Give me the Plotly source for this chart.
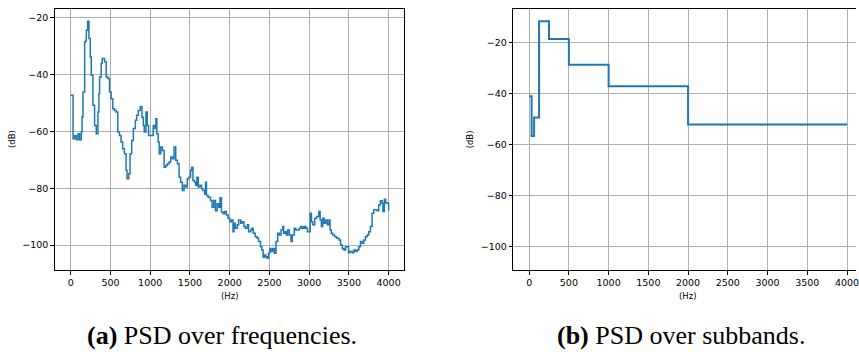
import plotly.graph_objects as go

W, H = 859, 352

# ---------------- data: (a) PSD over frequencies ----------------
freq_hz = [0, 29, 50, 71, 92, 112, 133, 142, 154, 175, 188, 196, 213, 229, 246, 258, 279, 300, 321,
           342, 354, 363, 383, 396, 425, 446, 467, 488, 508, 529, 550, 571, 592, 613, 633, 654, 675,
           696, 708, 729, 746, 767, 788, 813, 829, 850, 875, 896, 913, 925, 946, 963, 979, 1021, 1038,
           1058, 1071, 1083, 1100, 1113, 1133, 1154, 1175, 1196, 1217, 1238, 1258, 1279, 1300, 1321,
           1342, 1363, 1383, 1404, 1425, 1446, 1467, 1488, 1508, 1521, 1538, 1558, 1571, 1588, 1604,
           1625, 1646, 1663, 1683, 1696, 1708, 1729, 1758, 1779, 1800, 1821, 1842, 1863, 1879, 1896,
           1917, 1937, 1958, 1979, 2000, 2021, 2042, 2054, 2071, 2096, 2113, 2138, 2154, 2179, 2196,
           2221, 2238, 2263, 2279, 2296, 2321, 2346, 2363, 2388, 2404, 2421, 2438, 2454, 2471, 2488,
           2504, 2521, 2542, 2563, 2583, 2604, 2625, 2646, 2667, 2679, 2696, 2713, 2729, 2750, 2771,
           2788, 2813, 2833, 2854, 2875, 2896, 2917, 2938, 2958, 2979, 3000, 3013, 3029, 3046, 3071,
           3096, 3121, 3138, 3154, 3171, 3188, 3208, 3229, 3250, 3263, 3279, 3296, 3321, 3346, 3375,
           3396, 3417, 3438, 3458, 3479, 3496, 3513, 3542, 3563, 3583, 3604, 3625, 3646, 3667, 3688,
           3708, 3729, 3750, 3771, 3792, 3813, 3833, 3854, 3875, 3896, 3917, 3929, 3946, 3963, 3979,
           4000]
psd_db = [-47.3, -62.6, -61.5, -62.9, -60.8, -62.9, -60.2, -54.9, -46.1, -28.5, -27.9, -24.4, -21.2,
          -27.3, -33.8, -40.2, -50.8, -57.9, -60.8, -53.2, -46.7, -40.8, -36.1, -34.3, -35.5, -40.8,
          -41.4, -46.1, -48.5, -52.0, -52.6, -53.2, -60.2, -61.4, -63.7, -66.1, -67.9, -73.7, -76.7,
          -74.9, -67.9, -63.2, -59.0, -56.1, -54.3, -52.6, -51.2, -55.0, -57.9, -60.2, -53.2, -57.9,
          -61.4, -61.4, -57.9, -59.0, -55.5, -60.8, -63.7, -67.9, -65.5, -66.7, -72.6, -72.0, -71.4,
          -70.8, -69.0, -69.6, -65.5, -70.2, -71.4, -76.1, -77.9, -80.8, -79.0, -79.6, -76.7, -76.1,
          -73.7, -72.6, -77.3, -77.9, -79.0, -76.1, -79.6, -79.0, -80.2, -80.8, -82.0, -77.9, -82.6,
          -83.2, -84.3, -86.7, -84.3, -87.9, -85.5, -86.7, -83.4, -88.4, -89.0, -88.2, -89.4, -90.6,
          -91.8, -91.2, -95.3, -92.3, -94.1, -92.9, -91.2, -92.3, -91.8, -93.5, -94.1, -92.9, -95.3,
          -94.7, -94.1, -95.9, -97.1, -97.6, -98.8, -100.6, -101.8, -104.3, -103.5, -104.1, -104.7,
          -102.9, -101.2, -102.3, -101.2, -102.9, -98.8, -95.9, -96.5, -94.7, -93.5, -95.9, -95.3,
          -96.5, -94.7, -96.5, -98.8, -96.5, -94.1, -94.7, -94.7, -94.1, -93.5, -94.1, -93.5, -94.1,
          -95.3, -95.3, -88.8, -91.8, -92.9, -90.6, -90.0, -88.2, -91.2, -93.5, -90.6, -92.3, -91.2,
          -92.9, -91.2, -94.7, -95.9, -96.5, -97.1, -97.6, -98.2, -100.0, -101.2, -101.8, -100.6,
          -100.6, -102.7, -102.3, -102.7, -101.8, -102.3, -101.8, -100.6, -98.8, -99.4, -98.2, -97.1,
          -96.5, -95.3, -93.5, -88.8, -87.6, -87.6, -87.9, -85.9, -84.4, -85.3, -88.2, -83.9, -85.1,
          -85.3, -87.9]

# ---------------- data: (b) PSD over subbands ----------------
band_edges_hz = [0, 31.25, 62.5, 125, 250, 500, 1000, 2000, 4000]
band_db = [-41.1, -56.7, -49.4, -11.8, -18.7, -28.8, -37.2, -52.2, -52.2]

x_ticks = [0, 500, 1000, 1500, 2000, 2500, 3000, 3500, 4000]
y_ticks = [-100, -80, -60, -40, -20]

captions = ["<b>(a)</b> PSD over frequencies.", "<b>(b)</b> PSD over subbands."]
x_label = "(Hz)"
y_label = "(dB)"

BLUE = "#1f77b4"
GRID = "#b0b0b0"
TICKFONT = dict(family="DejaVu Sans", size=9.5, color="#000000")

fig = go.Figure()
fig.add_trace(go.Scatter(x=freq_hz, y=psd_db, mode="lines", line=dict(color=BLUE, width=1.5, shape="hv"),
                         xaxis="x", yaxis="y", showlegend=False))
fig.add_trace(go.Scatter(x=band_edges_hz, y=band_db, mode="lines", line=dict(color=BLUE, width=2, shape="hv"),
                         xaxis="x2", yaxis="y2", showlegend=False))

def px(v):
    return v / W

def py(v):
    return (H - v) / H

common_x = dict(tickvals=x_ticks, ticks="outside", ticklen=3.5, tickwidth=0.8, tickcolor="#000",
                showgrid=True, gridcolor=GRID, gridwidth=1, zeroline=False, showline=True,
                linecolor="#000", linewidth=1, tickfont=TICKFONT, ticklabeloverflow="allow")
common_y = dict(tickvals=y_ticks, ticks="outside", ticklen=3.5, tickwidth=0.8, tickcolor="#000",
                showgrid=True, gridcolor=GRID, gridwidth=1, zeroline=False, showline=True,
                linecolor="#000", linewidth=1, tickfont=TICKFONT)

fig.update_layout(
    width=W, height=H, margin=dict(l=0, r=0, t=0, b=0),
    paper_bgcolor="white", plot_bgcolor="white",
    xaxis=dict(domain=[px(55), px(405.7)], range=[-200.6, 4197], mirror=True, anchor="y", **common_x),
    yaxis=dict(domain=[py(270), py(9)], range=[-108.8, -16.9], mirror=True, anchor="x", **common_y),
    xaxis2=dict(domain=[px(515), 1.0], range=[-200.6, 4113], mirror=True, anchor="y2", **common_x),
    yaxis2=dict(domain=[py(270), py(9)], range=[-109.1, -7.0], mirror=False, anchor="x2", **common_y),
)

ann = []
lab_font = dict(family="DejaVu Sans", size=8.5, color="#000")
for xc in (230.7, 690.7):
    ann.append(dict(x=px(xc), y=py(295.5), xref="paper", yref="paper", text=x_label, showarrow=False,
                    xanchor="center", yanchor="middle", font=lab_font))
for xc in (12, 472):
    ann.append(dict(x=px(xc), y=py(139), xref="paper", yref="paper", text=y_label, showarrow=False,
                    textangle=-90, xanchor="center", yanchor="middle", font=lab_font))
cap_font = dict(family="Liberation Serif", size=26, color="#000")
for xc, txt in zip((223, 683), captions):
    ann.append(dict(x=px(xc), y=py(335), xref="paper", yref="paper", text=txt, showarrow=False,
                    xanchor="center", yanchor="middle", font=cap_font))
fig.update_layout(annotations=ann)

fig.write_html("out.html")
